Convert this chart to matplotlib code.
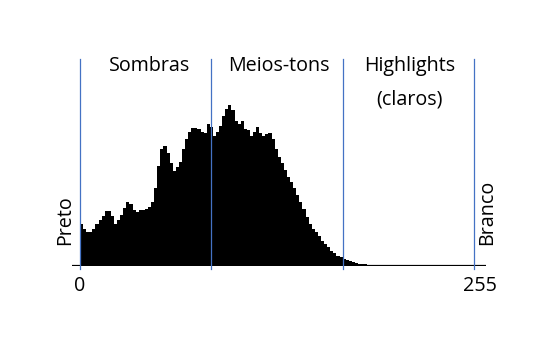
import numpy as np
import matplotlib
matplotlib.use("Agg")
import matplotlib.pyplot as plt

# =============================================================
# DADOS DO HISTOGRAMA (níveis 0-255, classes de largura 2)
# =============================================================
bin_edges = np.arange(0, 258, 2)
counts = [
    42, 37, 34, 34, 37, 42, 46, 50, 55, 55,
    50, 42, 46, 51, 58, 64, 62, 56, 54, 56,
    56, 57, 59, 64, 78, 100, 117, 120, 113, 103,
    95, 99, 104, 117, 127, 134, 138, 138, 137, 134,
    133, 142, 139, 130, 134, 140, 150, 157, 161, 156,
    145, 142, 145, 137, 136, 130, 134, 139, 133, 130,
    132, 133, 127, 117, 109, 103, 96, 89, 84, 78,
    71, 64, 57, 49, 42, 37, 34, 30, 25, 22,
    19, 15, 13, 10, 9, 7, 6, 5, 4, 3,
    2, 2, 2, 1, 1, 0.5,
]
counts = counts + [0] * (len(bin_edges) - 1 - len(counts))

zone_limits = [0, 85, 170, 255]
zone_labels = ["Sombras", "Meios-tons", "Highlights"]
zone_centers = [45, 129, 213.5]
tick_labels = {0: "0", 255: "255"}

BLUE = "#4472C4"
FONT = "Open Sans"
FS = 14.2

fig = plt.figure(figsize=(5.35, 3.39), dpi=100)
ax = fig.add_axes([72 / 535, 73.5 / 339, 414 / 535, 206.5 / 339])
ax.set_xlim(-5.2, 262.8)
ax.set_ylim(0, 206.5)
ax.axis("off")

# histograma
ax.stairs(counts, bin_edges, fill=True, color="black", zorder=2)

# linha de base
ax.axhline(0, color="black", lw=1.6, zorder=3)

# divisórias das zonas
for lim in zone_limits:
    ax.plot([lim, lim], [-3, 206.5], color=BLUE, lw=0.9, zorder=4, clip_on=False)

# rótulos das zonas
for lbl, cx in zip(zone_labels, zone_centers):
    ax.text(cx, 194.5, lbl, ha="center", va="baseline", fontsize=FS,
            family=FONT, zorder=5, clip_on=False)
ax.text(zone_centers[2], 161.5, "(claros)", ha="center", va="baseline",
        fontsize=FS, family=FONT, zorder=5)

# extremos
ax.text(-9.7, 20.5, "Preto", rotation=90, ha="center", va="bottom",
        fontsize=FS, family=FONT, clip_on=False)
ax.text(263.4, 20.5, "Branco", rotation=90, ha="center", va="bottom",
        fontsize=FS, family=FONT, clip_on=False)

for pos, txt in tick_labels.items():
    x = pos + (4 if pos == 255 else 0)
    ax.text(x, -20.5, txt, ha="center", va="center", fontsize=FS,
            family=FONT, clip_on=False)

fig.savefig("out.png", dpi=100, facecolor="white")
